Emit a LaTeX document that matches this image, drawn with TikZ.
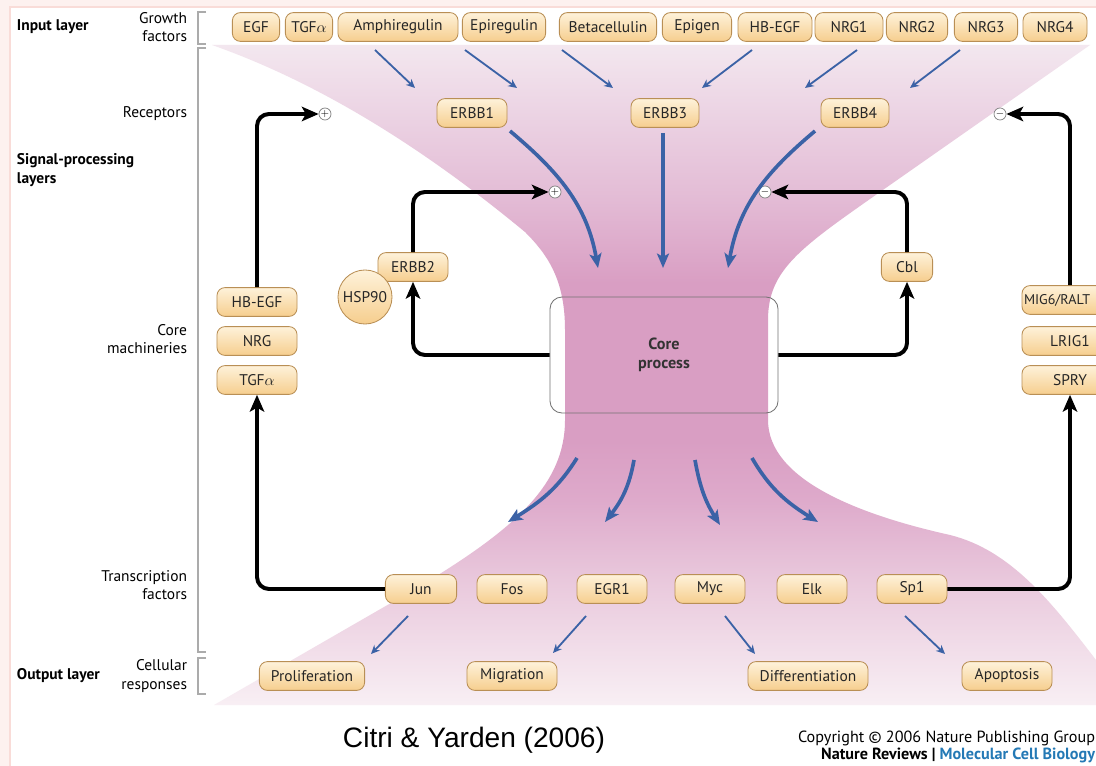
\documentclass[tikz,border=0pt]{standalone}
\usepackage{fontspec}
\setmainfont{PT Sans}
\newfontfamily\citefont{Liberation Sans}
\usetikzlibrary{arrows.meta}
\definecolor{boxedge}{HTML}{B98F55}
\definecolor{boxtop}{HTML}{FEF2DA}
\definecolor{boxbot}{HTML}{F6CE8E}
\definecolor{signalblue}{HTML}{3B62A6}
\definecolor{layergray}{HTML}{ABABAB}
\definecolor{framepink}{HTML}{F9DCD8}
\definecolor{journalblue}{HTML}{2479B5}
\definecolor{pinkA}{HTML}{F3E7EF}
\definecolor{pinkB}{HTML}{ECD4E4}
\definecolor{pinkC}{HTML}{E3BBD5}
\definecolor{pinkD}{HTML}{D99EC3}
\definecolor{pinkE}{HTML}{DEAACB}
\definecolor{pinkF}{HTML}{E9C8DC}
\definecolor{pinkG}{HTML}{F8EFF4}
\pgfdeclareverticalshading{funnelshade}{100bp}{color(0bp)=(pinkG); color(25bp)=(pinkG); color(34.5bp)=(pinkF); color(40.5bp)=(pinkE); color(45bp)=(pinkD); color(57bp)=(pinkD); color(63.3bp)=(pinkC); color(70bp)=(pinkB); color(75bp)=(pinkA); color(100bp)=(pinkA)}
\begin{document}
\begin{tikzpicture}[x=0.025cm,y=0.025cm,
		factor/.style={draw=boxedge,line width=0.6pt,rounded corners=0.2cm,top color=boxtop,bottom color=boxbot,minimum height=0.72cm,inner xsep=0.1cm,text=black!85},
		sign/.style={circle,draw=black!50,fill=white,line width=0.5pt,minimum size=0.3cm,inner sep=0pt,font=\fontsize{7}{7}\selectfont},
		feedback/.style={line width=2.8pt,rounded corners=0.3cm,-{Stealth[length=0.42cm,width=0.36cm,inset=0.1cm]}},
		bigarrow/.style={signalblue,line width=2.6pt,-{Stealth[length=0.36cm,width=0.3cm,inset=0.08cm]}},
		fine/.style={signalblue,line width=1.3pt,-{Stealth[length=0.22cm,width=0.2cm]}},
		layer/.style={layergray,line width=0.9pt},
		side/.style={align=right,anchor=east},
		headline/.style={align=left,anchor=west,font=\fontsize{11}{13}\selectfont\bfseries}]
	\tikzstyle{every node}+=[font=\fontsize{11}{13}\selectfont]
	\useasboundingbox (0,0) rectangle (1096,-766);
	\fill[white] (0,0) rectangle (1096,-766);
	\fill[framepink!40] (0,0) rectangle (1096,-7);
	\fill[framepink!40] (0,0) rectangle (10,-766);
	\draw[framepink,line width=1pt] (10,-766) -- (10,-7) -- (1096,-7);
	\shade[shading=funnelshade] (212,-45) -- (1090,-45) -- (880,-192)
		.. controls (800,-248) and (768,-270) .. (768,-320) -- (768,-420)
		.. controls (768,-480) and (860,-515) .. (950,-535)
		.. controls (1010,-550) and (1050,-600) .. (1096,-660) -- (1096,-705)
		-- (214,-705) -- (410,-592) .. controls (515,-530) and (565,-485) .. (565,-420)
		-- (565,-330) .. controls (565,-280) and (548,-255) .. (525,-232)
		.. controls (450,-170) and (340,-90) .. (212,-45);
	\node[draw=black!55,line width=0.6pt,rounded corners=0.3cm,minimum width=5.7cm,minimum height=2.9cm,align=center,font=\fontsize{11.5}{13.5}\selectfont\bfseries,text=black!80] (core) at (664,-355) {Core\\process};
	\draw[layer] (206,-12) -- (198,-12) -- (198,-44) -- (206,-44);
	\draw[layer] (206,-48) -- (198,-48) -- (198,-652) -- (206,-652);
	\draw[layer] (206,-658) -- (198,-658) -- (198,-694) -- (206,-694);
	\node[headline] (inputlabel) at (12,-27) {Input layer};
	\node[headline] (signallabel) at (12,-170) {Signal-processing\\layers};
	\node[headline] (outputlabel) at (12,-676) {Output layer};
	\node[side] (growthlabel) at (192,-27) {Growth\\factors};
	\node[side] (receptorlabel) at (192,-114) {Receptors};
	\node[side] (corelabel) at (192,-339) {Core\\machineries};
	\node[side] (tflabel) at (192,-585) {Transcription\\factors};
	\node[side] (responselabel) at (192,-676) {Cellular\\responses};
	\node[factor,minimum width=1.18cm] (egf) at (256,-27) {EGF};
	\node[factor,minimum width=1.18cm] (tgfa) at (309,-27) {TGF$\alpha$};
	\node[factor,minimum width=3cm] (amph) at (398,-27) {Amphiregulin};
	\node[factor,minimum width=2.08cm] (epireg) at (504,-27) {Epiregulin};
	\node[factor,minimum width=2.43cm] (betacell) at (608,-27) {Betacellulin};
	\node[factor,minimum width=1.73cm] (epigen) at (697,-27) {Epigen};
	\node[factor,minimum width=1.85cm] (hbegf) at (775,-27) {HB-EGF};
	\node[factor,minimum width=1.7cm] (nrg1) at (849,-27) {NRG1};
	\node[factor,minimum width=1.53cm] (nrg2) at (917,-27) {NRG2};
	\node[factor,minimum width=1.58cm] (nrg3) at (986,-27) {NRG3};
	\node[factor,minimum width=1.6cm] (nrg4) at (1055,-27) {NRG4};
	\node[factor,minimum width=1.75cm] (erbb1) at (472,-113) {ERBB1};
	\node[factor,minimum width=1.7cm] (erbb3) at (665,-113) {ERBB3};
	\node[factor,minimum width=1.7cm] (erbb4) at (855,-113) {ERBB4};
	\node[factor,minimum width=1.75cm] (erbb2) at (413,-267) {ERBB2};
	\node[factor,circle,minimum size=1.35cm,inner sep=0pt] (hsp90) at (365,-297) {HSP90};
	\node[factor,minimum width=1.28cm] (cbl) at (907,-267) {Cbl};
	\node[factor,minimum width=2cm] (hbegf2) at (257,-302) {HB-EGF};
	\node[factor,minimum width=2cm] (nrg) at (257,-341) {NRG};
	\node[factor,minimum width=2cm] (tgfa2) at (257,-380) {TGF$\alpha$};
	\node[factor,inner xsep=0.05cm,text width=2.3cm,align=left,font=\fontsize{10}{12}\selectfont] (mig6) at (1070,-300) {MIG6/RALT};
	\node[factor,minimum width=2.4cm] (lrig1) at (1070,-341) {LRIG1};
	\node[factor,minimum width=2.4cm] (spry) at (1070,-380) {SPRY};
	\node[factor,minimum width=1.78cm] (jun) at (421,-589) {Jun};
	\node[factor,minimum width=1.75cm] (fos) at (512,-589) {Fos};
	\node[factor,minimum width=1.75cm] (egr1) at (612,-589) {EGR1};
	\node[factor,minimum width=1.75cm] (myc) at (710,-589) {Myc};
	\node[factor,minimum width=1.75cm] (elk) at (812,-589) {Elk};
	\node[factor,minimum width=1.75cm] (sp1) at (912,-589) {Sp1};
	\node[factor,minimum width=2.63cm] (prolif) at (312,-676) {Proliferation};
	\node[factor,minimum width=2.25cm] (migr) at (512,-676) {Migration};
	\node[factor,minimum width=3cm] (diff) at (808,-676) {Differentiation};
	\node[factor,minimum width=2.25cm] (apopt) at (1007,-676) {Apoptosis};
	\node[sign] (plus1) at (325,-114) {$+$};
	\node[sign] (plus2) at (555,-192) {$+$};
	\node[sign] (minus1) at (765,-192) {$-$};
	\node[sign] (minus2) at (1000,-114) {$-$};
	\draw[fine] (amph) ++(-23,-23) -- ++(40,-38);
	\draw[fine] (epireg) ++(-39,-23) -- ++(52,-38);
	\draw[fine] (betacell) ++(-46,-23) -- ++(51,-38);
	\draw[fine] (hbegf) ++(-23,-23) -- ++(-50,-38);
	\draw[fine] (nrg1) ++(8,-23) -- ++(-52,-38);
	\draw[fine] (nrg3) ++(-26,-23) -- ++(-50,-38);
	\draw[bigarrow] (erbb1) ++(38,-18) to[out=-40,in=100] ++(88,-137);
	\draw[bigarrow] (erbb3) ++(-2,-20) -- ++(0,-135);
	\draw[bigarrow] (erbb4) ++(-40,-18) to[out=220,in=80] ++(-87,-137);
	\draw[bigarrow] (core) ++(-87,-103) to[out=-122,in=32] ++(-69,-64);
	\draw[bigarrow] (core) ++(-30,-105) to[out=-100,in=52] ++(-29,-62);
	\draw[bigarrow] (core) ++(31,-105) to[out=-80,in=122] ++(25,-65);
	\draw[bigarrow] (core) ++(88,-103) to[out=-60,in=148] ++(66,-64);
	\draw[fine] (jun) ++(-13,-27) -- ++(-37,-38);
	\draw[fine] (egr1) ++(-26,-27) -- ++(-33,-37);
	\draw[fine] (myc) ++(15,-27) -- ++(30,-38);
	\draw[fine] (sp1) ++(-7,-27) -- ++(40,-38);
	\draw[feedback] (hbegf2.north) |- (plus1.west);
	\draw[feedback] (jun.west) -| (tgfa2.south);
	\draw[feedback] (core.west) -| (erbb2.south);
	\draw[feedback] (erbb2.north) |- (plus2.west);
	\draw[feedback] (core.east) -| (cbl.south);
	\draw[feedback] (cbl.north) |- (minus1.east);
	\draw[feedback] (mig6.north) |- (minus2.east);
	\draw[feedback] (sp1.east) -| (spry.south);
	\node[font=\citefont\fontsize{20}{24}\selectfont] (citation) at (474,-740) {Citri \& Yarden (2006)};
	\node[anchor=east,font=\fontsize{11.5}{13}\selectfont] (copyline) at (1100,-738) {Copyright \textcopyright{} 2006 Nature Publishing Group};
	\node[anchor=east,font=\fontsize{11.5}{13}\selectfont\bfseries] (journal) at (1100,-755) {Nature Reviews | \textcolor{journalblue}{Molecular Cell Biology}};
\end{tikzpicture}
\end{document}
